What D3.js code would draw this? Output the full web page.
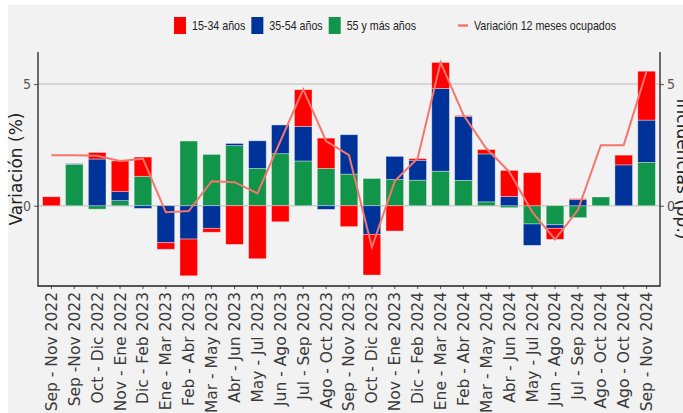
<!DOCTYPE html>
<html>
<head>
<meta charset="utf-8">
<script src="https://cdn.jsdelivr.net/npm/d3@7"></script>
<style>
  body { margin: 0; background: #fff; }
  svg { display: block; }
</style>
</head>
<body>
<div id="chart"></div>
<script>
var categories = ["Sep - Nov 2022", "Sep -Nov 2022", "Oct - Dic 2022", "Nov - Ene 2022", "Dic - Feb 2023",
  "Ene - Mar 2023", "Feb - Abr 2023", "Mar - May 2023", "Abr - Jun 2023", "May - Jul 2023",
  "Jun - Ago 2023", "Jul - Sep 2023", "Ago - Oct 2023", "Sep - Nov 2023", "Oct - Dic 2023",
  "Nov - Ene 2023", "Dic - Feb 2024", "Ene - Mar 2024", "Feb - Abr 2024", "Mar - May 2024",
  "Abr - Jun 2024", "May - Jul 2024", "Jun - Ago 2024", "Jul - Sep 2024", "Ago - Oct 2024",
  "Ago - Oct 2024", "Sep - Nov 2024"];

// incidencias por tramo de edad (pp.)
var mayores55 = [0, 1.70, -0.14, 0.21, 1.21, 0, 2.66, 2.11, 2.47, 1.53, 2.14, 1.84, 1.53, 1.30, 1.12,
  1.08, 1.05, 1.42, 1.04, 0.16, -0.08, -0.75, -0.78, -0.49, 0.36, 0, 1.78];
var medios35 = [0, 0.03, 1.92, 0.37, -0.11, -1.52, -1.37, -0.93, 0.09, 1.14, 1.18, 1.42, -0.15, 1.62, -1.18,
  0.95, 0.82, 3.40, 2.63, 1.97, 0.38, -0.88, -0.15, 0.25, 0, 1.68, 1.74];
var jovenes15 = [0.37, 0, 0.27, 1.26, 0.79, -0.27, -1.51, -0.16, -1.59, -2.18, -0.66, 1.51, 1.25, -0.86, -1.67,
  -1.04, 0.07, 1.07, 0.04, 0.18, 1.07, 1.36, -0.45, 0.04, 0, 0.40, 2.01];
// variacion 12 meses ocupados (%)
var variacion = [2.08, 2.08, 2.05, 1.84, 1.93, -0.27, -0.22, 1.01, 0.97, 0.51, 2.65, 4.78, 2.66, 2.08, -1.71,
  1.01, 1.95, 5.89, 3.73, 2.35, 1.40, -0.25, -1.38, -0.18, 2.49, 2.49, 5.53];

var yTicks = [0, 5];
var seriesKeys = ["g55", "g35", "g15"];
var legendNames = ["15-34 años", "35-54 años", "55 y más años"];
var lineName = "Variación 12 meses ocupados";

var width = 683, height = 413;
var colors = { g15: "#ff0000", g35: "#003399", g55: "#10954b" };
var lineColor = "#f4766d";

var svg = d3.select("#chart").append("svg")
    .attr("width", width)
    .attr("height", height);

svg.append("rect")
    .attr("x", 8).attr("y", 5)
    .attr("width", width - 8).attr("height", height - 5)
    .attr("fill", "#f2f2f2");

var pLeft = 38, pRight = 660, pTop = 52, pBottom = 286;

var x = d3.scaleBand()
    .domain(d3.range(categories.length))
    .range([pLeft, pRight])
    .paddingInner(0.23)
    .paddingOuter(0.2);

var y = d3.scaleLinear()
    .domain([-3.3, 6.32])
    .range([pBottom, pTop]);

// grid lines
svg.append("g").selectAll("line")
    .data(yTicks)
    .enter().append("line")
    .attr("x1", pLeft).attr("x2", pRight)
    .attr("y1", function(d) { return y(d); })
    .attr("y2", function(d) { return y(d); })
    .attr("stroke", "#cccccc")
    .attr("stroke-width", 1.5);

var rows = categories.map(function(c, i) {
  return { i: i, g55: mayores55[i], g35: medios35[i], g15: jovenes15[i] };
});

var stack = d3.stack()
    .keys(seriesKeys)
    .offset(d3.stackOffsetDiverging);

var layers = stack(rows);

svg.append("g").selectAll("g")
    .data(layers)
    .enter().append("g")
    .attr("fill", function(d) { return colors[d.key]; })
    .selectAll("rect")
    .data(function(d) { return d; })
    .enter().append("rect")
    .attr("x", function(d) { return x(d.data.i); })
    .attr("width", x.bandwidth())
    .attr("y", function(d) { return y(Math.max(d[0], d[1])); })
    .attr("height", function(d) { return Math.abs(y(d[0]) - y(d[1])); })
    .attr("stroke", "#ffffff")
    .attr("stroke-opacity", 0.45)
    .attr("stroke-width", 0.8);

var line = d3.line()
    .x(function(d, i) { return x(i) + x.bandwidth() / 2; })
    .y(function(d) { return y(d); });

svg.append("path")
    .datum(variacion)
    .attr("d", line)
    .attr("fill", "none")
    .attr("stroke", lineColor)
    .attr("stroke-width", 2);

// axes
var yLeft = d3.axisLeft(y).tickValues(yTicks).tickSize(4).tickPadding(3);
var yRight = d3.axisRight(y).tickValues(yTicks).tickSize(4).tickPadding(3);

var gl = svg.append("g").attr("transform", "translate(" + pLeft + ",0)").call(yLeft);
var gr = svg.append("g").attr("transform", "translate(" + pRight + ",0)").call(yRight);
[gl, gr].forEach(function(g) {
  g.select(".domain").remove();
  g.selectAll(".tick line").attr("stroke", "#555");
  g.selectAll(".tick text")
    .attr("font-family", "DejaVu Sans Condensed, DejaVu Sans, sans-serif")
    .attr("font-size", 14)
    .attr("fill", "#555");
});

var xAxis = d3.axisBottom(x).tickSize(3).tickFormat("");
var gx = svg.append("g").attr("transform", "translate(0," + pBottom + ")").call(xAxis);
gx.select(".domain").remove();
gx.selectAll(".tick line").attr("stroke", "#555");

svg.append("g").selectAll("text")
    .data(categories)
    .enter().append("text")
    .attr("transform", function(d, i) {
      return "translate(" + (x(i) + x.bandwidth() / 2) + "," + (pBottom + 6) + ") rotate(-90)";
    })
    .attr("text-anchor", "end")
    .attr("dy", "0.35em")
    .attr("font-family", "DejaVu Sans, sans-serif")
    .attr("font-size", 15.5)
    .attr("fill", "#3a3a3a")
    .text(function(d) { return d; });

// frame
svg.append("path")
    .attr("d", "M" + pLeft + "," + pTop + "V" + pBottom + "H" + pRight + "V" + pTop)
    .attr("fill", "none")
    .attr("stroke", "#222")
    .attr("stroke-width", 1.3);

// axis titles
svg.append("text")
    .attr("transform", "translate(22," + ((pTop + pBottom) / 2) + ") rotate(-90)")
    .attr("text-anchor", "middle")
    .attr("font-family", "DejaVu Sans, sans-serif")
    .attr("font-size", 17)
    .attr("fill", "#222")
    .text("Variación (%)");

svg.append("text")
    .attr("transform", "translate(677," + ((pTop + pBottom) / 2) + ") rotate(90)")
    .attr("text-anchor", "middle")
    .attr("font-family", "DejaVu Sans, sans-serif")
    .attr("font-size", 17)
    .attr("fill", "#222")
    .text("Incidencias (pp.)");

// legend, narrow lettering
var legend = svg.append("g").attr("font-family", "Liberation Sans, Arial, sans-serif")
    .attr("font-size", 13).attr("fill", "#222");
var lx = 174, ly = 25.5;
var legKeys = ["g15", "g35", "g55"];

function narrowText(t) {
  var w = t.node().getComputedTextLength() * 0.82;
  t.attr("textLength", w).attr("lengthAdjust", "spacingAndGlyphs");
  return w;
}

legKeys.forEach(function(k, i) {
  legend.append("rect")
      .attr("x", lx).attr("y", ly - 8.5)
      .attr("width", 12).attr("height", 17)
      .attr("fill", colors[k]);
  var t = legend.append("text")
      .attr("x", lx + 18).attr("y", ly)
      .attr("dy", "0.35em")
      .text(legendNames[i]);
  lx += 18 + narrowText(t) + 6;
});
lx += 36;
legend.append("line")
    .attr("x1", lx).attr("x2", lx + 10)
    .attr("y1", ly).attr("y2", ly)
    .attr("stroke", lineColor)
    .attr("stroke-width", 2.5);
var lt = legend.append("text")
    .attr("x", lx + 16).attr("y", ly)
    .attr("dy", "0.35em")
    .text(lineName);
narrowText(lt);
</script>
</body>
</html>
